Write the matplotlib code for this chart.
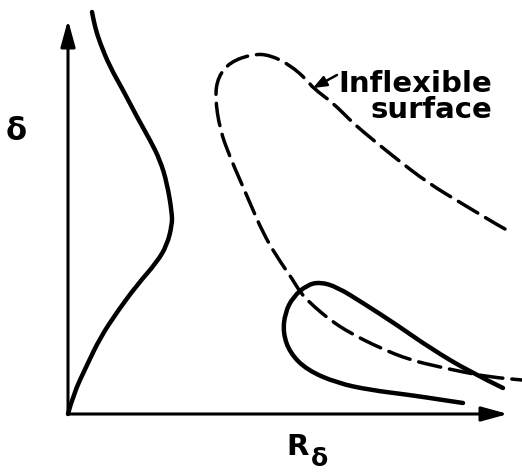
import matplotlib.pyplot as plt
from matplotlib.path import Path
from matplotlib.patches import PathPatch

plt.rcParams['font.family'] = 'DejaVu Sans'

# Stability boundary sketch: delta vs R_delta (origin at the axes corner)
curve_x = [0, 5, 19, 32, 49, 69, 89, 99, 104, 104, 99, 92, 82, 69, 55, 42, 32, 27, 24]
curve_y = [0, 19, 49, 76, 102, 129, 152, 169, 189, 201, 231, 254, 274, 297, 324, 347, 371, 387, 402]

# Inflexible-surface boundary (dashed)
rigid_x = [437, 433, 393, 360, 326, 293, 282, 265, 245, 239, 222, 202, 185, 162, 150, 147,
           152, 162, 172, 182, 195, 209, 225, 232, 242, 262, 282, 312, 342, 372, 395, 422, 454]
rigid_y = [185, 187, 211, 231, 257, 284, 294, 311, 326, 334, 349, 359, 360, 352, 337, 317,
           284, 257, 234, 211, 181, 157, 134, 122, 111, 94, 81, 66, 54, 47, 42, 37, 34]

# Closed-tongue boundary near the R axis
loop_x = [435, 402, 362, 329, 295, 269, 252, 239, 225, 217, 215, 222, 239, 269, 302, 342, 375, 395]
loop_y = [26, 42, 66, 89, 111, 127, 132, 129, 117, 101, 81, 61, 44, 31, 24, 19, 14, 11]


def smooth_path(xs, ys):
    # quadratic segments through midpoints, using each point as control
    pts = list(zip(xs, ys))
    verts = [pts[0]]
    codes = [Path.MOVETO]
    for i in range(1, len(pts) - 1):
        mid = ((pts[i][0] + pts[i + 1][0]) / 2, (pts[i][1] + pts[i + 1][1]) / 2)
        verts += [pts[i], mid]
        codes += [Path.CURVE3, Path.CURVE3]
    verts.append(pts[-1])
    codes.append(Path.LINETO)
    return Path(verts, codes)


fig = plt.figure(figsize=(5.22, 4.72), dpi=100)
ax = fig.add_axes([0, 0, 1, 1])
ax.set_xlim(-68, 454)
ax.set_ylim(-58, 414)
ax.axis('off')

# axes with arrow heads
arrow = dict(arrowstyle='-|>,head_length=0.8,head_width=0.22', lw=2.2, color='black',
             mutation_scale=20, shrinkA=0, shrinkB=0)
ax.annotate('', xy=(0, 394), xytext=(0, 0), arrowprops=arrow)
ax.annotate('', xy=(440, 0), xytext=(0, 0), arrowprops=arrow)

ax.add_patch(PathPatch(smooth_path(curve_x, curve_y), fill=False, lw=3.2,
                       edgecolor='black', capstyle='round', joinstyle='round'))
ax.add_patch(PathPatch(smooth_path(loop_x, loop_y), fill=False, lw=3.2,
                       edgecolor='black', capstyle='round', joinstyle='round'))
ax.add_patch(PathPatch(smooth_path(rigid_x, rigid_y), fill=False, lw=2.5,
                       edgecolor='black', linestyle=(0, (6.5, 2.6)), capstyle='round'))

# label pointing at the dashed curve
ax.annotate('', xy=(245, 326), xytext=(269, 339),
            arrowprops=dict(arrowstyle='-|>,head_length=0.5,head_width=0.2', lw=1.8,
                            color='black', mutation_scale=16, shrinkA=0, shrinkB=0))
ax.text(424, 322, 'Inflexible', ha='right', va='baseline', fontsize=21, fontweight='bold')
ax.text(424, 296, 'surface', ha='right', va='baseline', fontsize=21, fontweight='bold')

ax.text(-52, 283, 'δ', ha='center', va='center', fontsize=22, fontweight='bold')
ax.text(230, -33, 'R', ha='center', va='center', fontsize=21, fontweight='bold')
ax.text(252, -45, 'δ', ha='center', va='center', fontsize=18, fontweight='bold')

plt.savefig('out.png', dpi=100)
